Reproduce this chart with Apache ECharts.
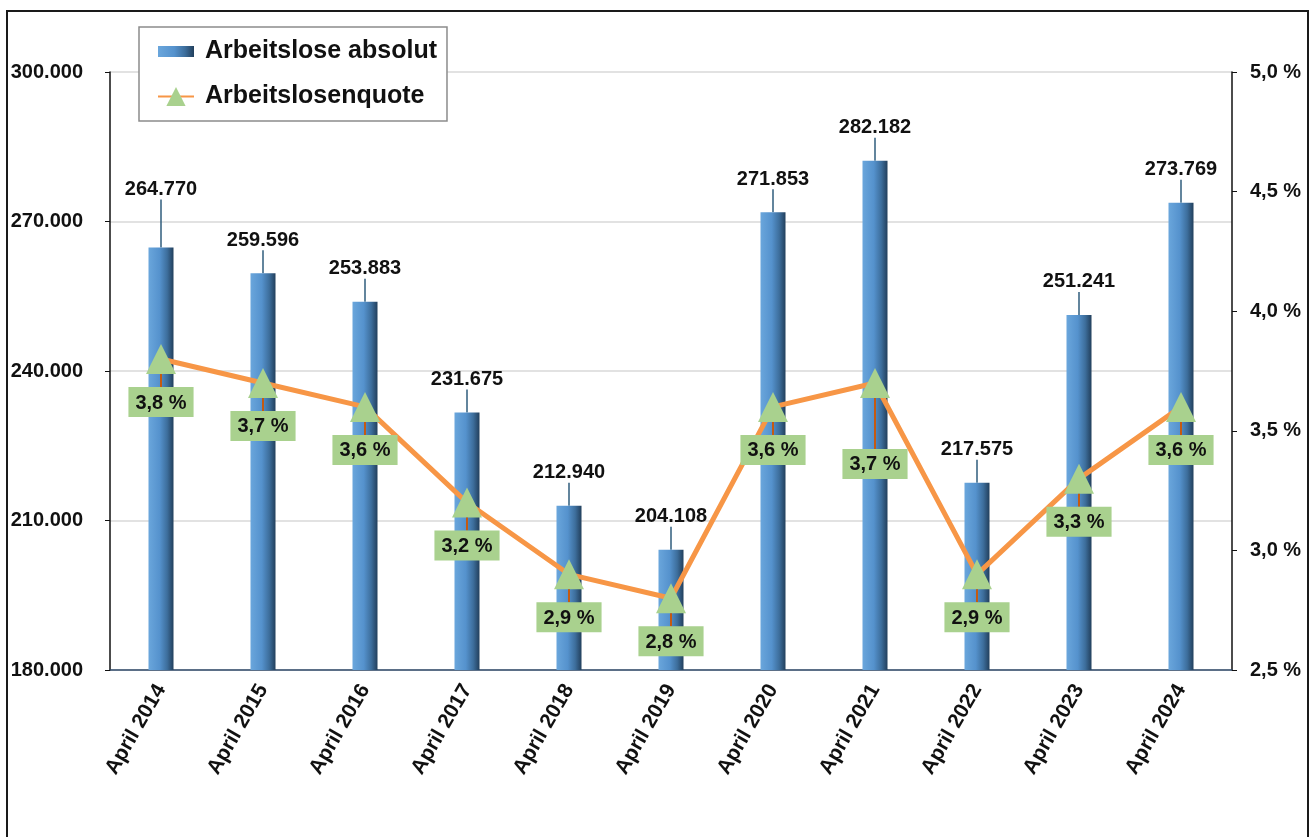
<!DOCTYPE html>
<html>
<head>
<meta charset="utf-8">
<script src="https://cdn.jsdelivr.net/npm/echarts@6/dist/echarts.min.js"></script>
<style>
  html, body { margin: 0; padding: 0; background: #fff; }
  #container { width: 1313px; height: 837px; }
  .frame {
    position: absolute; left: 6px; top: 10px;
    width: 1299px; height: 840px;
    border: 2px solid #1a1a1a; pointer-events: none;
  }
</style>
</head>
<body>
<div id="container"></div>
<div class="frame"></div>
<script>
  // data
  var categories = ['April 2014', 'April 2015', 'April 2016', 'April 2017', 'April 2018', 'April 2019',
                    'April 2020', 'April 2021', 'April 2022', 'April 2023', 'April 2024'];
  var arbeitslose = [264770, 259596, 253883, 231675, 212940, 204108, 271853, 282182, 217575, 251241, 273769];
  var quote = [3.8, 3.7, 3.6, 3.2, 2.9, 2.8, 3.6, 3.7, 2.9, 3.3, 3.6];
  var leftAxis = { min: 180000, max: 300000, interval: 30000 };
  var rightAxis = { min: 2.5, max: 5.0, interval: 0.5 };

  var FONT = '"Liberation Sans", Arial, sans-serif';

  function thousands(v) {
    return String(Math.round(v)).replace(/\B(?=(\d{3})+(?!\d))/g, '.');
  }
  function pct(v) {
    return v.toFixed(1).replace('.', ',') + ' %';
  }

  var barColor = new echarts.graphic.LinearGradient(0, 0, 1, 0, [
    { offset: 0, color: '#6aa6dc' },
    { offset: 0.45, color: '#5592cd' },
    { offset: 0.75, color: '#3d6e9c' },
    { offset: 1, color: '#223f5c' }
  ]);

  var dom = document.getElementById('container');
  var myChart = echarts.init(dom);
  var option = {
    animation: false,
    backgroundColor: '#fff',
    grid: {
      left: 110, right: 81, top: 72, bottom: 167,
      outerBoundsMode: 'none'
    },
    legend: {
      orient: 'vertical',
      left: 139, top: 27,
      padding: [12, 10, 12, 18],
      itemGap: 20,
      itemWidth: 36,
      itemHeight: 24,
      borderColor: '#8c8c8c',
      borderWidth: 1.5,
      backgroundColor: '#fff',
      textStyle: { fontFamily: FONT, fontWeight: 'bold', fontSize: 25, color: '#111', padding: [0, 0, 0, 6] },
      data: [
        { name: 'Arbeitslose absolut', icon: 'path://M0,0 H36 V11 H0 Z' },
        { name: 'Arbeitslosenquote' }
      ]
    },
    xAxis: {
      type: 'category',
      data: categories,
      axisLine: { lineStyle: { color: '#2f4a6a', width: 1.5 } },
      axisTick: { alignWithLabel: true, length: 5, lineStyle: { color: '#2f4a6a' } },
      axisLabel: {
        rotate: 60, margin: 16, interval: 0,
        fontFamily: FONT, fontWeight: 'bold', fontSize: 21, color: '#111'
      }
    },
    yAxis: [
      {
        type: 'value',
        min: leftAxis.min, max: leftAxis.max, interval: leftAxis.interval,
        axisLine: { show: true, lineStyle: { color: '#111', width: 1.5 } },
        axisTick: { show: true, length: 5, lineStyle: { color: '#111' } },
        splitLine: { show: true, lineStyle: { color: '#d9d9d9', width: 1.5 } },
        axisLabel: {
          margin: 27,
          fontFamily: FONT, fontWeight: 'bold', fontSize: 20, color: '#111',
          formatter: thousands
        }
      },
      {
        type: 'value',
        position: 'right',
        min: rightAxis.min, max: rightAxis.max, interval: rightAxis.interval,
        axisLine: { show: true, lineStyle: { color: '#111', width: 1.5 } },
        axisTick: { show: true, length: 5, lineStyle: { color: '#111' } },
        splitLine: { show: false },
        axisLabel: {
          margin: 18,
          fontFamily: FONT, fontWeight: 'bold', fontSize: 20, color: '#111',
          formatter: pct
        }
      }
    ],
    series: [
      {
        name: 'Arbeitslose absolut',
        type: 'bar',
        yAxisIndex: 0,
        barWidth: 25,
        data: arbeitslose,
        itemStyle: { color: barColor },
        label: {
          show: true, position: 'top', distance: 5,
          fontFamily: FONT, fontWeight: 'bold', fontSize: 20, color: '#111',
          formatter: function (p) { return thousands(p.value); }
        },
        labelLine: {
          show: true,
          lineStyle: { color: '#2f5d7c', width: 1.5 }
        },
        labelLayout: function (params) {
          return { dy: params.dataIndex === 0 ? -43 : -18 };
        }
      },
      {
        name: 'Arbeitslosenquote',
        type: 'line',
        yAxisIndex: 1,
        data: quote,
        z: 5,
        symbol: 'triangle',
        symbolSize: 30,
        lineStyle: { color: '#f79646', width: 5 },
        itemStyle: { color: '#a9d18e' },
        label: {
          show: true, position: 'bottom', distance: 5,
          fontFamily: FONT, fontWeight: 'bold', fontSize: 20, color: '#111',
          backgroundColor: '#a9d18e',
          padding: [6, 7, 4, 7],
          formatter: function (p) { return pct(p.value); }
        },
        labelLine: {
          show: true, showAbove: true,
          lineStyle: { color: '#c55a11', width: 2 }
        },
        labelLayout: function (params) {
          return { dy: params.dataIndex === 7 ? 46 : 8 };
        }
      }
    ]
  };
  if (option && typeof option === 'object') {
    myChart.setOption(option, true);
  }
</script>
</body>
</html>
